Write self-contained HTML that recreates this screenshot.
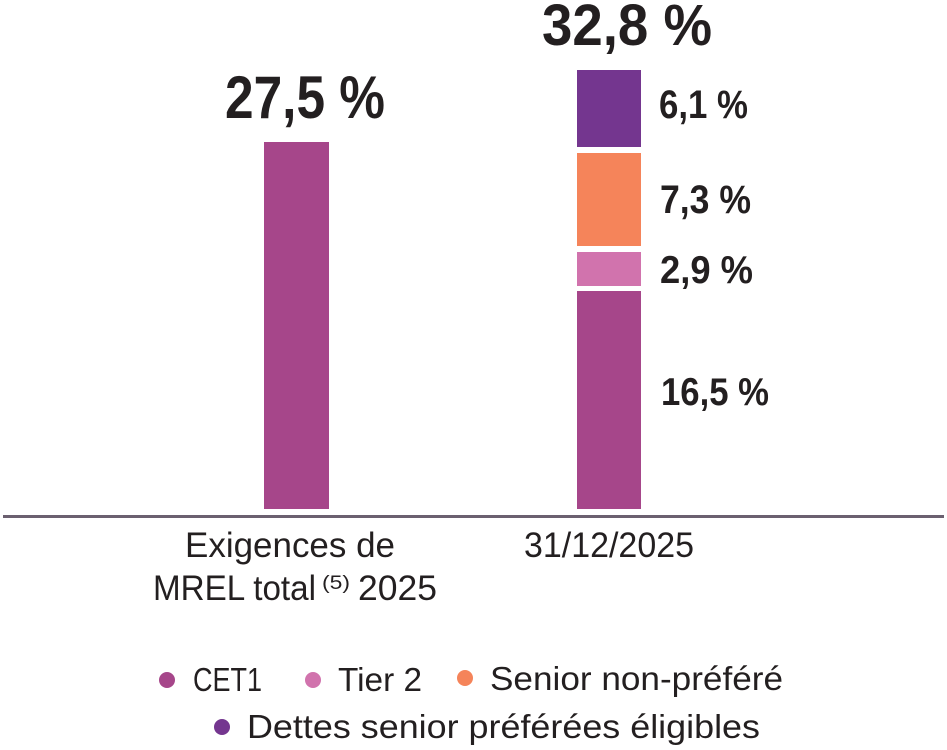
<!DOCTYPE html>
<html><head><meta charset="utf-8"><style>
html,body{margin:0;padding:0;background:#fff;}
svg{display:block;}
text{font-family:"Liberation Sans",sans-serif;fill:#231f20;}
.b{font-weight:bold;}
</style></head><body>
<svg width="947" height="750" viewBox="0 0 947 750" xmlns="http://www.w3.org/2000/svg">
<rect x="0" y="0" width="947" height="750" fill="#fff"/>
<!-- bar 1 -->
<rect x="264" y="142" width="65" height="367" fill="#a6468a"/>
<!-- bar 2 -->
<rect x="577" y="70" width="64" height="77" fill="#74368f"/>
<rect x="577" y="153" width="64" height="93" fill="#f5845a"/>
<rect x="577" y="252" width="64" height="34" fill="#d173ad"/>
<rect x="577" y="291" width="64" height="218" fill="#a6468a"/>
<!-- axis -->
<rect x="3" y="515" width="941" height="3" fill="#6b6070"/>
<!-- totals -->
<text class="b" x="225" y="118" font-size="60" textLength="160" lengthAdjust="spacingAndGlyphs">27,5 %</text>
<text class="b" x="542" y="45" font-size="58" textLength="170" lengthAdjust="spacingAndGlyphs">32,8 %</text>
<!-- segment labels -->
<text class="b" x="659" y="118" font-size="40" textLength="89" lengthAdjust="spacingAndGlyphs">6,1 %</text>
<text class="b" x="660" y="213" font-size="40" textLength="91" lengthAdjust="spacingAndGlyphs">7,3 %</text>
<text class="b" x="660" y="283" font-size="39" textLength="93" lengthAdjust="spacingAndGlyphs">2,9 %</text>
<text class="b" x="661" y="405" font-size="39" textLength="108" lengthAdjust="spacingAndGlyphs">16,5 %</text>
<!-- axis labels -->
<text x="185" y="557" font-size="35" textLength="210" lengthAdjust="spacingAndGlyphs">Exigences de</text>
<text x="153" y="600" font-size="35" textLength="163" lengthAdjust="spacingAndGlyphs">MREL total</text>
<text x="322" y="589" font-size="19" textLength="28" lengthAdjust="spacingAndGlyphs">(5)</text>
<text x="358" y="600" font-size="35" textLength="79" lengthAdjust="spacingAndGlyphs">2025</text>
<text x="524" y="557" font-size="35" textLength="170" lengthAdjust="spacingAndGlyphs">31/12/2025</text>
<!-- legend -->
<circle cx="167" cy="680" r="8" fill="#a6468a"/>
<text x="193" y="691" font-size="33" textLength="69" lengthAdjust="spacingAndGlyphs">CET1</text>
<circle cx="313" cy="680" r="8" fill="#d173ad"/>
<text x="338" y="691" font-size="33" textLength="84" lengthAdjust="spacingAndGlyphs">Tier 2</text>
<circle cx="465" cy="678" r="8" fill="#f5845a"/>
<text x="490" y="690" font-size="33" textLength="293" lengthAdjust="spacingAndGlyphs">Senior non-préféré</text>
<circle cx="222" cy="727" r="8" fill="#74368f"/>
<text x="247" y="738" font-size="33" textLength="513" lengthAdjust="spacingAndGlyphs">Dettes senior préférées éligibles</text>
</svg>
</body></html>
